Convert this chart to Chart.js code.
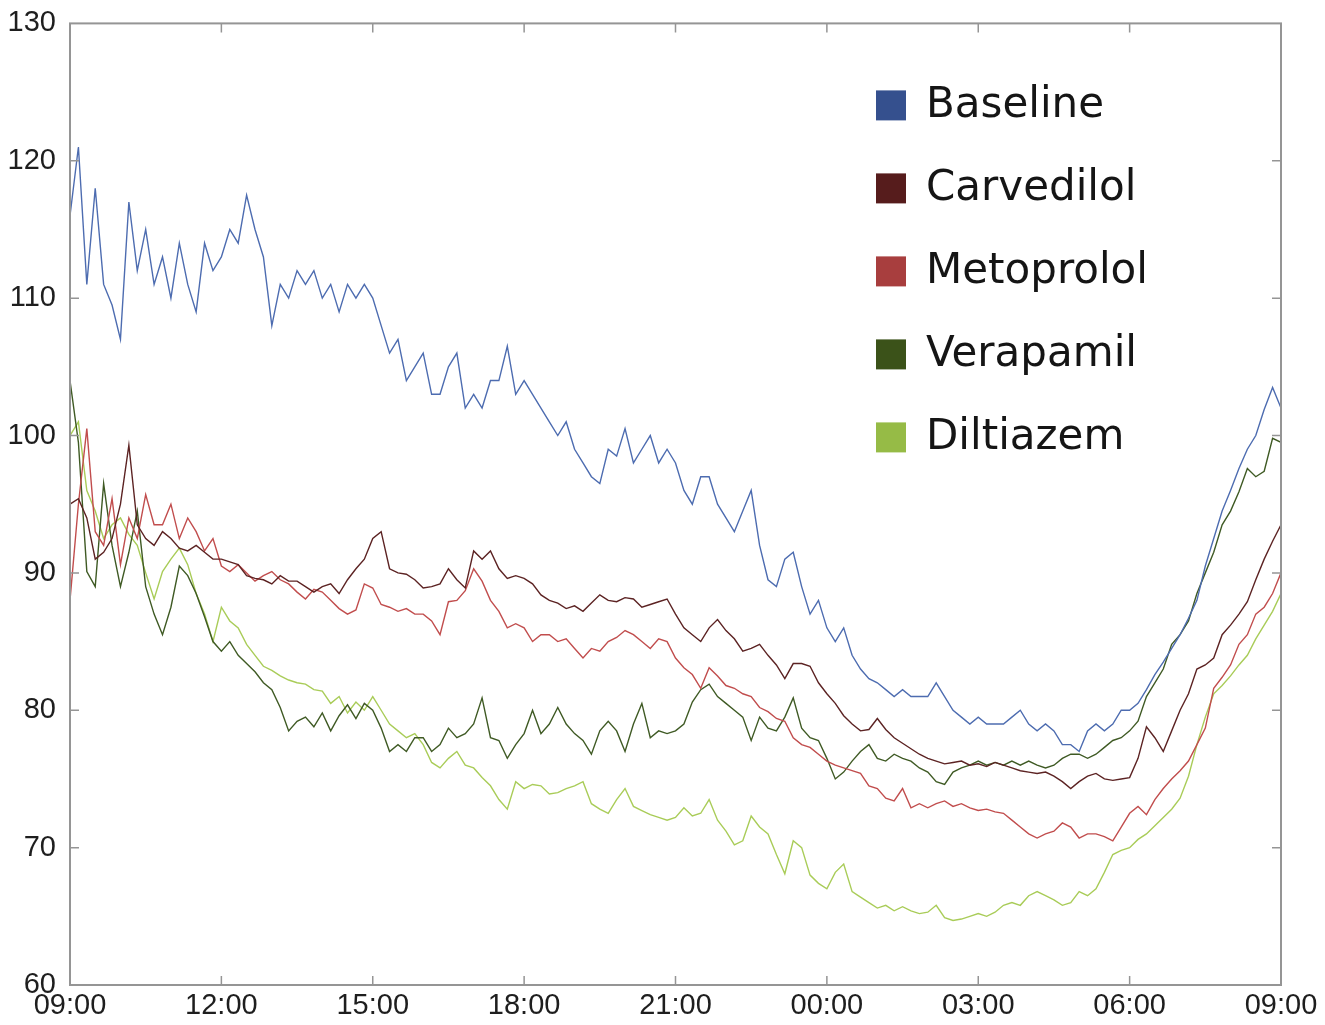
<!DOCTYPE html>
<html>
<head>
<meta charset="utf-8">
<title>Heart rate over 24 h</title>
<script src="https://cdn.jsdelivr.net/npm/chart.js@4.4.0/dist/chart.umd.min.js"></script>
<style>
  body { margin: 0; background: #fff; }
</style>
</head>
<body>
<canvas id="myChart" width="1325" height="1025"></canvas>
<script>
// one reading every 10 minutes, 09:00 -> 09:00 next day
const stepHours = 1 / 6;
const tickLabels = ['09:00', '12:00', '15:00', '18:00', '21:00', '00:00', '03:00', '06:00', '09:00'];

const seriesNames = ['Baseline', 'Carvedilol', 'Metoprolol', 'Verapamil', 'Diltiazem'];

const baseline = [
  116, 121, 111, 118, 111, 109.5,
  107, 117, 112, 115, 111, 113,
  110, 114, 111, 109, 114, 112,
  113, 115, 114, 117.5, 115, 113,
  108, 111, 110, 112, 111, 112,
  110, 111, 109, 111, 110, 111,
  110, 108, 106, 107, 104, 105,
  106, 103, 103, 105, 106, 102,
  103, 102, 104, 104, 106.5, 103,
  104, 103, 102, 101, 100, 101,
  99, 98, 97, 96.5, 99, 98.5,
  100.5, 98, 99, 100, 98, 99,
  98, 96, 95, 97, 97, 95,
  94, 93, 94.5, 96, 92, 89.5,
  89, 91, 91.5, 89, 87, 88,
  86, 85, 86, 84, 83, 82.3,
  82, 81.5, 81, 81.5, 81, 81,
  81, 82, 81, 80, 79.5, 79,
  79.5, 79, 79, 79, 79.5, 80,
  79, 78.5, 79, 78.5, 77.5, 77.5,
  77, 78.5, 79, 78.5, 79, 80,
  80, 80.5, 81.5, 82.6, 83.5, 84.5,
  85.5, 86.7, 88, 90.5, 92.5, 94.5,
  96, 97.6, 99, 100, 101.9, 103.5,
  102
];

const carvedilol = [
  95, 95.4, 94, 91, 91.5, 92.5,
  95, 99.3, 93.5, 92.5, 92, 93,
  92.5, 91.8, 91.6, 92, 91.5, 91,
  91, 90.8, 90.6, 89.8, 89.6, 89.5,
  89.2, 89.8, 89.4, 89.4, 89, 88.6,
  89, 89.2, 88.5, 89.5, 90.3, 91,
  92.5, 93, 90.3, 90, 89.9, 89.5,
  88.9, 89, 89.2, 90.3, 89.5, 88.9,
  91.6, 91, 91.6, 90.3, 89.6, 89.8,
  89.6, 89.2, 88.4, 88, 87.8, 87.4,
  87.6, 87.2, 87.8, 88.4, 88, 87.9,
  88.2, 88.1, 87.5, 87.7, 87.9, 88.1,
  87, 86, 85.5, 85, 86, 86.6,
  85.8, 85.2, 84.3, 84.5, 84.8, 84,
  83.3, 82.3, 83.4, 83.4, 83.2, 82,
  81.2, 80.5, 79.6, 79, 78.5, 78.6,
  79.4, 78.6, 78, 77.6, 77.2, 76.8,
  76.5, 76.3, 76.1, 76.2, 76.3, 76,
  76.1, 75.9, 76.2, 76, 75.8, 75.6,
  75.5, 75.4, 75.5, 75.2, 74.8, 74.3,
  74.8, 75.2, 75.4, 75, 74.9, 75,
  75.1, 76.5, 78.8, 78, 77, 78.5,
  80, 81.2, 83, 83.3, 83.8, 85.5,
  86.2, 87, 87.9, 89.5, 91, 92.3,
  93.5
];

const metoprolol = [
  88, 95, 100.5, 93, 92, 95.4,
  90.6, 94, 92.5, 95.7, 93.5, 93.5,
  95, 92.5, 94, 93, 91.6, 92.5,
  90.5, 90.1, 90.6, 90, 89.4, 89.8,
  90.1, 89.5, 89.2, 88.6, 88.1, 88.8,
  88.6, 88, 87.4, 87, 87.3, 89.2,
  88.9, 87.7, 87.5, 87.2, 87.4, 87,
  87, 86.5, 85.5, 87.9, 88, 88.7,
  90.3, 89.4, 88, 87.2, 86, 86.3,
  86, 85, 85.5, 85.5, 85, 85.2,
  84.5, 83.8, 84.5, 84.3, 85, 85.3,
  85.8, 85.5, 85, 84.5, 85.2, 85,
  83.8, 83.1, 82.6, 81.6, 83.1, 82.5,
  81.8, 81.6, 81.2, 81, 80.2, 79.9,
  79.4, 79.2, 78, 77.5, 77.3, 76.8,
  76.3, 76, 75.8, 75.6, 75.4, 74.5,
  74.3, 73.6, 73.4, 74.3, 72.9, 73.2,
  72.9, 73.2, 73.4, 73, 73.2, 72.9,
  72.7, 72.8, 72.6, 72.5, 72, 71.5,
  71, 70.7, 71, 71.2, 71.8, 71.5,
  70.7, 71, 71, 70.8, 70.5, 71.5,
  72.5, 73, 72.4, 73.5, 74.3, 75,
  75.6, 76.3, 77.5, 78.7, 81.6, 82.4,
  83.3, 84.8, 85.5, 87, 87.5, 88.5,
  90
];

const verapamil = [
  104, 99.5, 90.1, 89, 96.5, 92,
  89, 91.5, 94.5, 89, 87, 85.5,
  87.5, 90.5, 89.8, 88.5, 86.8, 85,
  84.3, 85, 84, 83.4, 82.8, 82,
  81.5, 80.2, 78.5, 79.2, 79.5, 78.8,
  79.8, 78.5, 79.6, 80.4, 79.4, 80.5,
  80, 78.7, 77, 77.5, 77, 78,
  78, 77, 77.5, 78.7, 78, 78.3,
  79, 80.9, 78, 77.8, 76.5, 77.5,
  78.3, 80, 78.3, 79, 80.2, 79,
  78.3, 77.8, 76.8, 78.5, 79.2, 78.5,
  77, 79, 80.5, 78, 78.5, 78.3,
  78.5, 79, 80.6, 81.5, 81.9, 81,
  80.5, 80, 79.5, 77.8, 79.5, 78.7,
  78.5, 79.5, 80.9, 78.7, 78, 77.8,
  76.5, 75, 75.5, 76.3, 77, 77.5,
  76.5, 76.3, 76.8, 76.5, 76.3, 75.8,
  75.5, 74.8, 74.6, 75.5, 75.8, 76,
  76.3, 76, 76.2, 76, 76.3, 76,
  76.3, 76, 75.8, 76, 76.5, 76.8,
  76.8, 76.5, 76.8, 77.3, 77.8, 78,
  78.5, 79.2, 81, 82, 83, 84.8,
  85.5, 86.5, 88.5, 90, 91.5, 93.5,
  94.5, 95.9, 97.6, 97, 97.4, 99.8,
  99.5
];

const diltiazem = [
  100, 101, 96, 94.5, 92.5, 93.5,
  94, 92.8, 92, 90, 88.1, 90.1,
  91, 91.8, 90.6, 88.5, 87, 85,
  87.5, 86.5, 86, 84.8, 84, 83.2,
  82.9, 82.5, 82.2, 82, 81.9, 81.5,
  81.4, 80.5, 81, 79.8, 80.6, 80,
  81, 80, 79, 78.5, 78, 78.3,
  77.5, 76.2, 75.8, 76.5, 77, 76,
  75.8, 75.1, 74.5, 73.5, 72.8, 74.8,
  74.3, 74.6, 74.5, 73.9, 74, 74.3,
  74.5, 74.8, 73.2, 72.8, 72.5, 73.5,
  74.3, 73, 72.7, 72.4, 72.2, 72,
  72.2, 72.9, 72.3, 72.5, 73.5, 72,
  71.2, 70.2, 70.5, 72.3, 71.5, 71,
  69.5, 68.1, 70.5, 70, 68, 67.4,
  67, 68.2, 68.8, 66.8, 66.4, 66,
  65.6, 65.8, 65.4, 65.7, 65.4, 65.2,
  65.3, 65.8, 64.9, 64.7, 64.8, 65,
  65.2, 65, 65.3, 65.8, 66, 65.8,
  66.5, 66.8, 66.5, 66.2, 65.8, 66,
  66.8, 66.5, 67, 68.2, 69.5, 69.8,
  70, 70.6, 71, 71.6, 72.2, 72.8,
  73.6, 75.2, 77.5, 79.5, 81.2, 81.8,
  82.5, 83.3, 84, 85.2, 86.2, 87.2,
  88.5
];

const lineColors = ['#4d6cb0', '#5c2323', '#c14d4d', '#3f5a24', '#a9cc58'];
const legendColors = ['#35508e', '#561c1c', '#a83e3e', '#3b5219', '#96bb46'];

function toPoints(values) {
  return values.map((v, i) => ({ x: i * stepHours, y: v }));
}

const allSeries = [baseline, carvedilol, metoprolol, verapamil, diltiazem];

const data = {
  datasets: allSeries.map((values, i) => ({
    label: seriesNames[i],
    data: toPoints(values),
    borderColor: lineColors[i],
    backgroundColor: legendColors[i],
    borderWidth: 1.4,
    pointRadius: 0,
    tension: 0
  }))
};

// box round the plot with ticks pointing inwards on all four sides
const frameBox = {
  id: 'frameBox',
  afterDatasetsDraw(chart) {
    const { ctx, chartArea: a, scales } = chart;
    const len = 9;
    ctx.save();
    ctx.strokeStyle = '#959595';
    ctx.lineWidth = 2;
    ctx.strokeRect(a.left, a.top, a.right - a.left, a.bottom - a.top);
    ctx.lineWidth = 1.5;
    ctx.beginPath();
    scales.x.ticks.forEach(t => {
      const px = scales.x.getPixelForValue(t.value);
      if (px <= a.left + 1 || px >= a.right - 1) return;
      ctx.moveTo(px, a.bottom); ctx.lineTo(px, a.bottom - len);
      ctx.moveTo(px, a.top); ctx.lineTo(px, a.top + len);
    });
    scales.y.ticks.forEach(t => {
      const py = scales.y.getPixelForValue(t.value);
      if (py <= a.top + 1 || py >= a.bottom - 1) return;
      ctx.moveTo(a.left, py); ctx.lineTo(a.left + len, py);
      ctx.moveTo(a.right, py); ctx.lineTo(a.right - len, py);
    });
    ctx.stroke();
    ctx.restore();
  }
};

// legend sits inside the plot, top right
const legendBox = {
  id: 'legendBox',
  afterDraw(chart) {
    const { ctx, chartArea: a } = chart;
    const x0 = a.left + 806;
    ctx.save();
    ctx.font = '42px "DejaVu Sans"';
    ctx.textBaseline = 'middle';
    chart.data.datasets.forEach((ds, i) => {
      const y = a.top + 82 + i * 83;
      ctx.fillStyle = legendColors[i];
      ctx.fillRect(x0, y - 15, 30, 30);
      ctx.fillStyle = '#151515';
      ctx.fillText(ds.label, x0 + 50, y + 1);
    });
    ctx.restore();
  }
};

const tickFont = { family: '"Liberation Sans", Arial, sans-serif', size: 29 };

const config = {
  type: 'line',
  data: data,
  options: {
    responsive: false,
    animation: false,
    layout: { padding: { top: 20, right: 44, left: 0, bottom: 0 } },
    plugins: { legend: { display: false }, tooltip: { enabled: false } },
    scales: {
      x: {
        type: 'linear',
        min: 0,
        max: 24,
        grid: { display: false },
        border: { display: false },
        ticks: {
          stepSize: 3,
          autoSkip: false,
          maxRotation: 0,
          padding: -4,
          color: '#1e1e1e',
          font: tickFont,
          callback: v => tickLabels[v / 3]
        },
        afterFit: s => { s.height = 40; }
      },
      y: {
        min: 60,
        max: 130,
        grid: { display: false },
        border: { display: false },
        ticks: {
          stepSize: 10,
          padding: 6,
          color: '#1e1e1e',
          font: tickFont
        },
        afterFit: s => { s.width = 70; }
      }
    }
  },
  plugins: [frameBox, legendBox]
};

var myChart = new Chart(document.getElementById('myChart'), config);
</script>
</body>
</html>
